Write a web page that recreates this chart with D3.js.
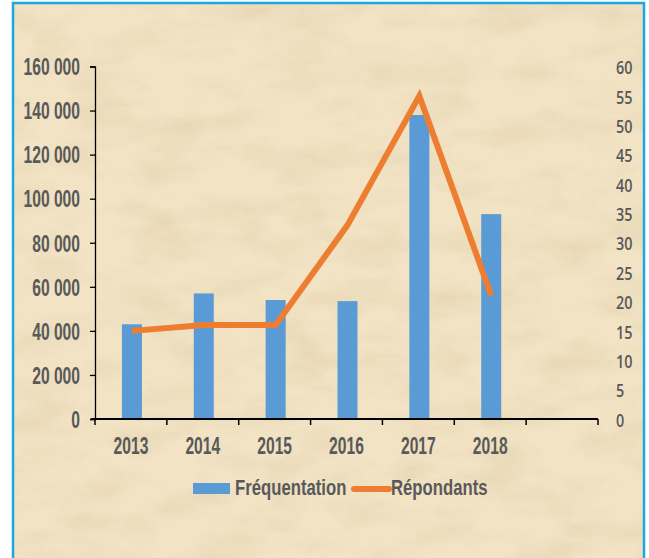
<!DOCTYPE html>
<html>
<head>
<meta charset="utf-8">
<script src="https://cdn.jsdelivr.net/npm/d3@7"></script>
<style>
  body { margin: 0; background: #fff; }
  svg text { font-family: "Liberation Sans", Arial, sans-serif; fill: #595959; font-weight: bold; }
</style>
</head>
<body>
<svg id="chart" width="649" height="558"></svg>
<script>
// donnees
var annees = ["2013", "2014", "2015", "2016", "2017", "2018", ""];
var frequentation = [43000, 57000, 54000, 53500, 138000, 93000];
var repondants = [15, 16, 16, 33, 55, 21];
var ticksGauche = [0, 20000, 40000, 60000, 80000, 100000, 120000, 140000, 160000];
var ticksDroite = [0, 5, 10, 15, 20, 25, 30, 35, 40, 45, 50, 55, 60];
var series = ["Fréquentation", "Répondants"];

var svg = d3.select("#chart");
var m = { left: 95, right: 598, top: 66.5, bottom: 419 };

// resserre le texte horizontalement (police etroite)
function serre(sel, k) {
  sel.each(function() {
    var t = d3.select(this), x0 = +t.attr("x") || 0;
    t.attr("x", 0).attr("transform", "translate(" + x0 + ",0) scale(" + k + ",1)");
  });
}

// fond parchemin
var defs = svg.append("defs");
var f = defs.append("filter").attr("id", "grain").attr("x", 0).attr("y", 0).attr("width", "100%").attr("height", "100%");
f.append("feTurbulence").attr("type", "fractalNoise").attr("baseFrequency", "0.015 0.035").attr("numOctaves", 4).attr("seed", 7).attr("result", "n");
f.append("feColorMatrix").attr("in", "n").attr("type", "matrix")
  .attr("values", "0 0 0 0 0.78  0 0 0 0 0.65  0 0 0 0 0.44  0 0 0 -1.5 0.9");

svg.append("rect").attr("x", 13).attr("y", 3).attr("width", 631).attr("height", 560)
  .attr("fill", "#f1e3c4");
svg.append("rect").attr("x", 13).attr("y", 3).attr("width", 631).attr("height", 560)
  .attr("filter", "url(#grain)").attr("opacity", 0.9);
svg.append("rect").attr("x", 13).attr("y", 3).attr("width", 631).attr("height", 560)
  .attr("fill", "none").attr("stroke", "#19a9e1").attr("stroke-width", 2.5);

var x = d3.scaleBand().domain(annees.map(function(d, i) { return i; }))
  .range([m.left, m.right]);
var yG = d3.scaleLinear().domain([0, 160000]).range([m.bottom, m.top]);
var yD = d3.scaleLinear().domain([0, 60]).range([m.bottom, m.top]);

var fmt = function(v) { return d3.format(",")(v).replace(/,/g, " "); };

// barres
var bw = 20;
svg.append("g").selectAll("rect").data(frequentation).enter().append("rect")
  .attr("x", function(d, i) { return x(i) + x.bandwidth() / 2 - bw / 2 + 1; })
  .attr("width", bw)
  .attr("y", function(d) { return yG(d); })
  .attr("height", function(d) { return m.bottom - yG(d); })
  .attr("fill", "#5b9bd5");

// axe gauche
var axG = svg.append("g").attr("transform", "translate(" + m.left + ",0)")
  .call(d3.axisLeft(yG).tickValues(ticksGauche).tickFormat(fmt).tickSize(5).tickPadding(10));
axG.attr("font-family", null).attr("font-size", null);
axG.select(".domain").attr("stroke", "#000").attr("stroke-width", 1.3);
axG.selectAll(".tick line").attr("stroke", "#000").attr("stroke-width", 1.3);
axG.selectAll("text").style("font-size", "23px").attr("dy", "0.36em").attr("fill", null);
serre(axG.selectAll("text"), 0.68);

// axe droit (sans trait)
var axD = svg.append("g").attr("transform", "translate(" + (m.right + 18) + ",0)")
  .call(d3.axisRight(yD).tickValues(ticksDroite).tickSize(0).tickPadding(0));
axD.attr("font-family", null).attr("font-size", null);
axD.select(".domain").remove();
axD.selectAll("text").style("font-size", "18px").style("font-family", "'Open Sans', sans-serif")
  .style("font-weight", "600").attr("dy", "0.4em").attr("fill", null);
serre(axD.selectAll("text"), 0.8);

// axe bas
var axB = svg.append("g").attr("transform", "translate(0," + m.bottom + ")")
  .call(d3.axisBottom(x).tickFormat(function(i) { return annees[i]; }).tickSize(0).tickPadding(18));
axB.attr("font-family", null).attr("font-size", null);
axB.select(".domain").remove();
axB.append("line").attr("x1", m.left - 4).attr("x2", m.right).attr("stroke", "#000").attr("stroke-width", 2);
axB.selectAll(".bord").data(d3.range(annees.length + 1)).enter().append("line")
  .attr("x1", function(i) { return m.left + i * x.step(); })
  .attr("x2", function(i) { return m.left + i * x.step(); })
  .attr("y1", 0).attr("y2", 6).attr("stroke", "#000").attr("stroke-width", 1.5);
axB.selectAll("text").style("font-size", "23px").attr("fill", null).attr("dy", "0.75em");
serre(axB.selectAll("text"), 0.68);

// ligne repondants
var ligne = d3.line()
  .x(function(d, i) { return x(i) + x.bandwidth() / 2 + 1; })
  .y(function(d) { return yD(d); });
svg.append("path").datum(repondants).attr("d", ligne)
  .attr("fill", "none").attr("stroke", "#ed7d31").attr("stroke-width", 6)
  .attr("stroke-linejoin", "miter");

// legende
var lg = svg.append("g");
lg.append("rect").attr("x", 193).attr("y", 483).attr("width", 37).attr("height", 11).attr("fill", "#5b9bd5");
lg.append("text").attr("x", 235).attr("y", 495).style("font-size", "22px").text(series[0]);
lg.append("line").attr("x1", 354).attr("x2", 389).attr("y1", 489).attr("y2", 489)
  .attr("stroke", "#ed7d31").attr("stroke-width", 6).attr("stroke-linecap", "round");
lg.append("text").attr("x", 391).attr("y", 495).style("font-size", "22px").text(series[1]);
serre(lg.selectAll("text"), 0.76);
</script>
</body>
</html>
